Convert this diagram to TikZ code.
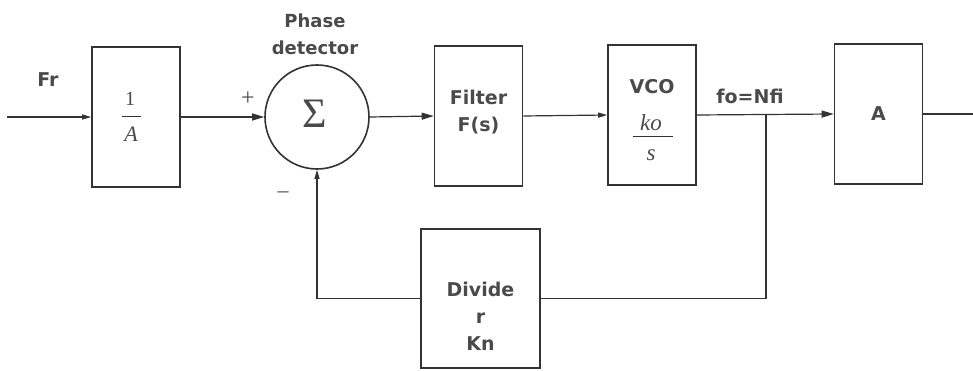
\documentclass[tikz,border=0pt]{standalone}
\usepackage{fontspec}
\setsansfont{DejaVu Sans}
\newfontfamily\tms{Liberation Serif}
\usetikzlibrary{arrows.meta}
\definecolor{ink}{HTML}{333333}
\definecolor{txt}{HTML}{4A4A4A}
\begin{document}
\begin{tikzpicture}[x=1pt,y=-1pt,
  blk/.style={draw=ink,line width=1.6pt,minimum width=88pt,minimum height=140pt,inner sep=0pt},
  lbl/.style={text=txt,font=\fontsize{19}{27}\selectfont\sffamily\bfseries,align=center,inner sep=0pt},
  mth/.style={text=txt,font=\fontsize{23}{26}\selectfont\tms\itshape,inner sep=0pt},
  wire/.style={draw=ink,line width=1.2pt},
  arr/.style={wire,-{Triangle[length=12pt,width=7pt]}},
  sarr/.style={wire,-{Triangle[length=9pt,width=5pt]}}]
\useasboundingbox (0,0) rectangle (973,371);
% blocks
\node[blk] (inv) at (136,117) {};
\node[draw=ink,line width=1.6pt,circle,minimum size=104pt,inner sep=0pt] (sum) at (317,117) {};
\node[text=txt,font=\fontsize{42}{44}\selectfont\tms,inner sep=0pt] (sig) at (315,114) {Σ};
\node[blk] (filt) at (478.5,116) {};
\node[blk] (vco) at (652,115) {};
\node[blk] (amp) at (878.5,114) {};
\node[blk,minimum width=119pt,minimum height=139pt] (div) at (480.5,298.5) {};
% block texts
\node[mth,font=\fontsize{20}{22}\selectfont\tms\upshape] (one) at (130,99) {1};
\draw[ink,line width=1pt] (122,117) -- (141,117);
\node[mth,font=\fontsize{22}{24}\selectfont\tms\itshape] (den) at (131,134) {A};
\node[lbl] (ftxt) at (filt.center) [yshift=4pt] {Filter\\F(s)};
\node[lbl] (vtxt) at (652,87) {VCO};
\node[mth] (ko) at (651,123) {ko};
\draw[ink,line width=1pt] (633,137) -- (673,137);
\node[mth] (ss) at (651,155) {s};
\node[lbl] (atxt) at (amp.center) {A};
\node[lbl] (dtxt) at (480.5,316) {Divide\\r\\Kn};
% labels
\node[lbl] (fr) at (48,80) {Fr};
\node[lbl,font=\fontsize{18}{27}\selectfont\sffamily\bfseries] (pd) at (315,34) {Phase\\detector};
\node[text=txt,font=\fontsize{24}{26}\selectfont\tms,inner sep=0pt] (plus) at (248,99) {+};
\node[text=txt,font=\fontsize{22}{24}\selectfont\tms,inner sep=0pt] (minus) at (283,195) {–};
\node[lbl] (fo) at (750,96) {fo=Nfi};
% connectors
\coordinate (in) at (7,117);
\coordinate (out) at (973,114);
\coordinate (br) at (766,115);
\coordinate (brd) at (766,298.5);
\coordinate (fbl) at (317,298.5);
\draw[sarr] (in) -- (inv.west);
\draw[arr] (inv.east) -- (sum.west);
\draw[arr] (sum.east) -- (filt.west);
\draw[sarr] (filt.east) -- (vco.west);
\draw[arr] (vco.east) -- (amp.west);
\draw[wire] (amp.east) -- (out);
\draw[wire] (br) -- (brd) -- (div.east);
\draw[wire] (div.west) -- (fbl);
\draw[sarr] (fbl) -- (sum.south);
\end{tikzpicture}
\end{document}
